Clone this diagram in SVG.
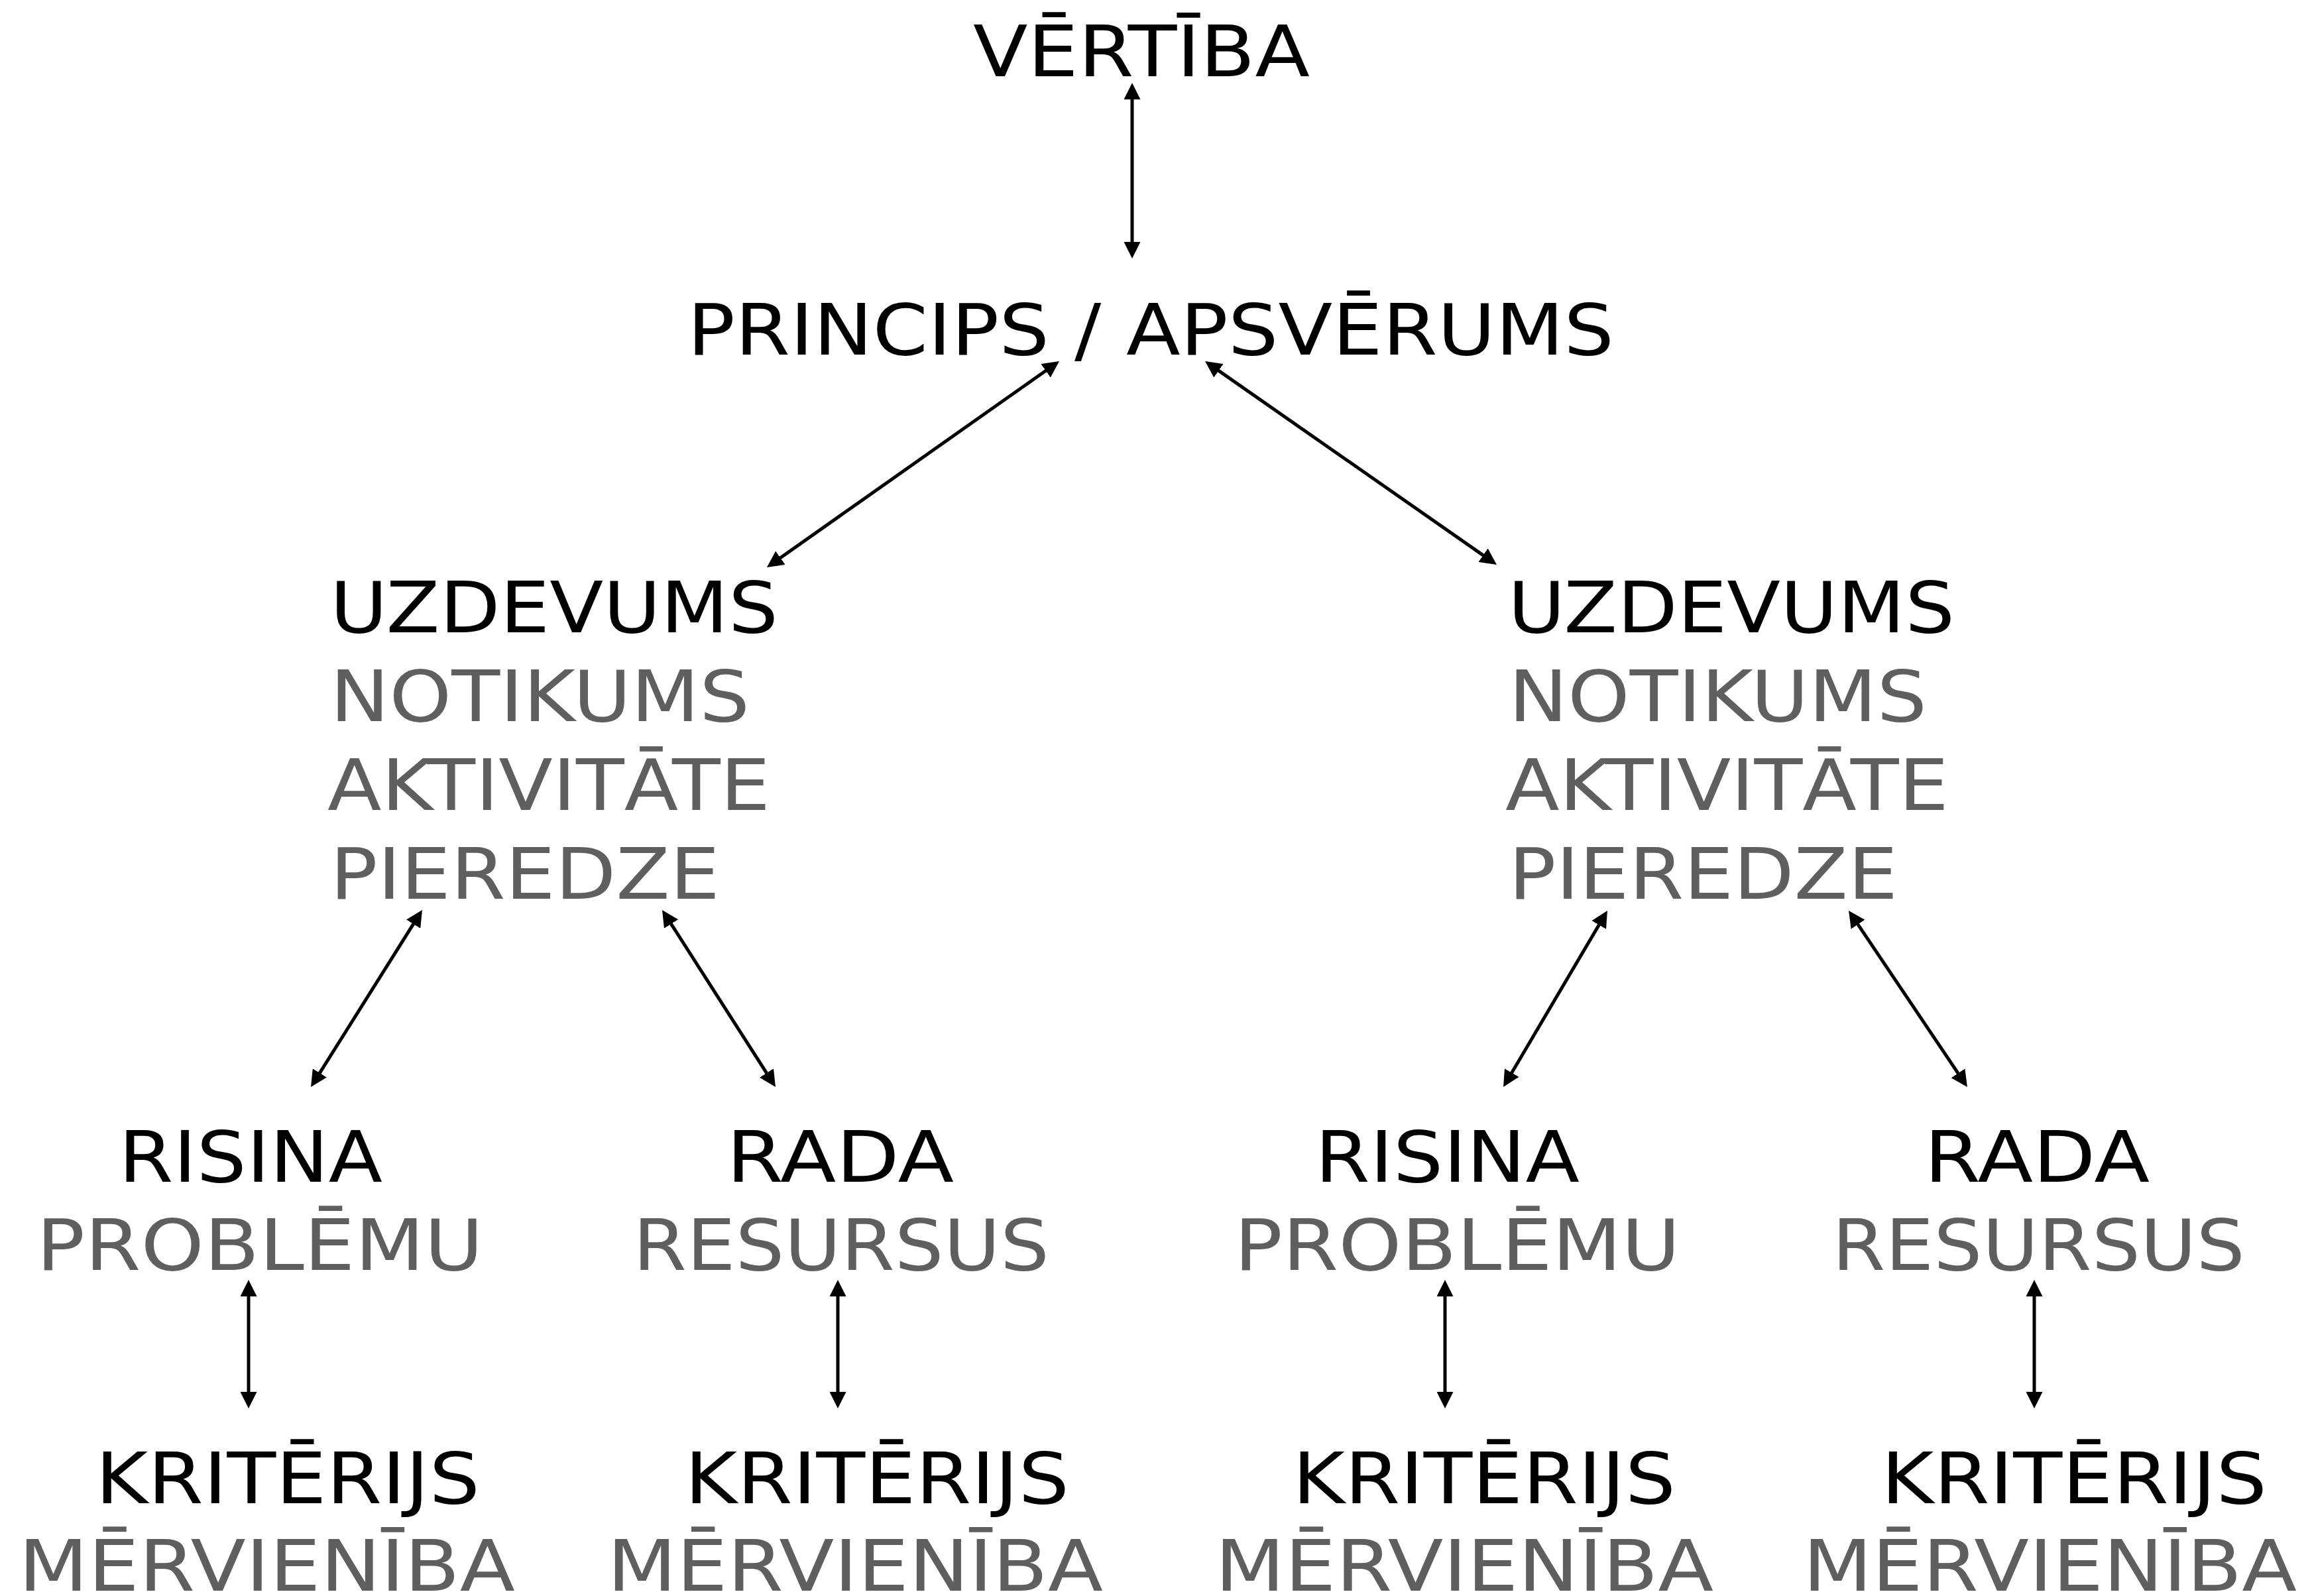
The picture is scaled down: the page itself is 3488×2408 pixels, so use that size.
<svg xmlns="http://www.w3.org/2000/svg" width="3488" height="2408" viewBox="0 0 3488 2408">
<defs>
<style>
text{font-family:"DejaVu Sans","Open Sans",sans-serif;font-size:107px;}
.k{fill:#000;}
.g{fill:#5f5f5f;}
.c line{stroke:#000;stroke-width:5;fill:none;marker-start:url(#ah);marker-end:url(#ah);}
</style>
<marker id="ah" viewBox="0 0 25 25" refX="5" refY="12.5" markerWidth="25" markerHeight="25" markerUnits="userSpaceOnUse" orient="auto-start-reverse">
<path d="M0,0 L25,12.5 L0,25 Z" fill="#000"/>
</marker>
</defs>
<rect width="3488" height="2408" fill="#fff"/>
<g id="connectors" class="c">
<line x1="1708" y1="145" x2="1708" y2="370"/>
<line x1="1581.7" y1="556.5" x2="1173.3" y2="844.5"/>
<line x1="1834.4" y1="556.4" x2="2241.6" y2="840.6"/>
<line x1="626.3" y1="1389.9" x2="479.7" y2="1623.1"/>
<line x1="1009.8" y1="1389.8" x2="1159.2" y2="1623.2"/>
<line x1="2414.8" y1="1391.2" x2="2278.2" y2="1622.8"/>
<line x1="2800.2" y1="1390.6" x2="2956.8" y2="1623.4"/>
<line x1="375" y1="1951" x2="375" y2="2105"/>
<line x1="1264" y1="1951" x2="1264" y2="2105"/>
<line x1="2180" y1="1951" x2="2180" y2="2105"/>
<line x1="3069" y1="1951" x2="3069" y2="2105"/>
</g>
<g id="vertiba"><text class="k" x="1468" y="115" textLength="508" lengthAdjust="spacingAndGlyphs">VĒRTĪBA</text></g>
<g id="princips"><text class="k" x="1037" y="535" textLength="1398" lengthAdjust="spacingAndGlyphs">PRINCIPS / APSVĒRUMS</text></g>
<g id="uzdevums-left">
<text class="k" x="498" y="954" textLength="676" lengthAdjust="spacingAndGlyphs">UZDEVUMS</text>
<text class="g" x="498" y="1088" textLength="633" lengthAdjust="spacingAndGlyphs">NOTIKUMS</text>
<text class="g" x="494" y="1222" textLength="668" lengthAdjust="spacingAndGlyphs">AKTIVITĀTE</text>
<text class="g" x="498" y="1356" textLength="588" lengthAdjust="spacingAndGlyphs">PIEREDZE</text>
</g>
<g id="uzdevums-right">
<text class="k" x="2275" y="954" textLength="674" lengthAdjust="spacingAndGlyphs">UZDEVUMS</text>
<text class="g" x="2276" y="1088" textLength="631" lengthAdjust="spacingAndGlyphs">NOTIKUMS</text>
<text class="g" x="2271" y="1222" textLength="669" lengthAdjust="spacingAndGlyphs">AKTIVITĀTE</text>
<text class="g" x="2276" y="1356" textLength="587" lengthAdjust="spacingAndGlyphs">PIEREDZE</text>
</g>
<g id="risina-left">
<text class="k" x="179" y="1783" textLength="398" lengthAdjust="spacingAndGlyphs">RISINA</text>
<text class="g" x="55" y="1916" textLength="674" lengthAdjust="spacingAndGlyphs">PROBLĒMU</text>
</g>
<g id="rada-left">
<text class="k" x="1096" y="1783" textLength="343" lengthAdjust="spacingAndGlyphs">RADA</text>
<text class="g" x="955" y="1916" textLength="628" lengthAdjust="spacingAndGlyphs">RESURSUS</text>
</g>
<g id="risina-right">
<text class="k" x="1984" y="1783" textLength="399" lengthAdjust="spacingAndGlyphs">RISINA</text>
<text class="g" x="1862" y="1916" textLength="673" lengthAdjust="spacingAndGlyphs">PROBLĒMU</text>
</g>
<g id="rada-right">
<text class="k" x="2903" y="1783" textLength="340" lengthAdjust="spacingAndGlyphs">RADA</text>
<text class="g" x="2764" y="1916" textLength="623" lengthAdjust="spacingAndGlyphs">RESURSUS</text>
</g>
<g id="kriterijs-1">
<text class="k" x="144" y="2268" textLength="580" lengthAdjust="spacingAndGlyphs">KRITĒRIJS</text>
<text class="g" x="28" y="2400" textLength="749" lengthAdjust="spacingAndGlyphs">MĒRVIENĪBA</text>
</g>
<g id="kriterijs-2">
<text class="k" x="1033" y="2268" textLength="580" lengthAdjust="spacingAndGlyphs">KRITĒRIJS</text>
<text class="g" x="916" y="2400" textLength="748" lengthAdjust="spacingAndGlyphs">MĒRVIENĪBA</text>
</g>
<g id="kriterijs-3">
<text class="k" x="1950" y="2268" textLength="578" lengthAdjust="spacingAndGlyphs">KRITĒRIJS</text>
<text class="g" x="1833" y="2400" textLength="752" lengthAdjust="spacingAndGlyphs">MĒRVIENĪBA</text>
</g>
<g id="kriterijs-4">
<text class="k" x="2838" y="2268" textLength="582" lengthAdjust="spacingAndGlyphs">KRITĒRIJS</text>
<text class="g" x="2720" y="2400" textLength="745" lengthAdjust="spacingAndGlyphs">MĒRVIENĪBA</text>
</g>
</svg>
